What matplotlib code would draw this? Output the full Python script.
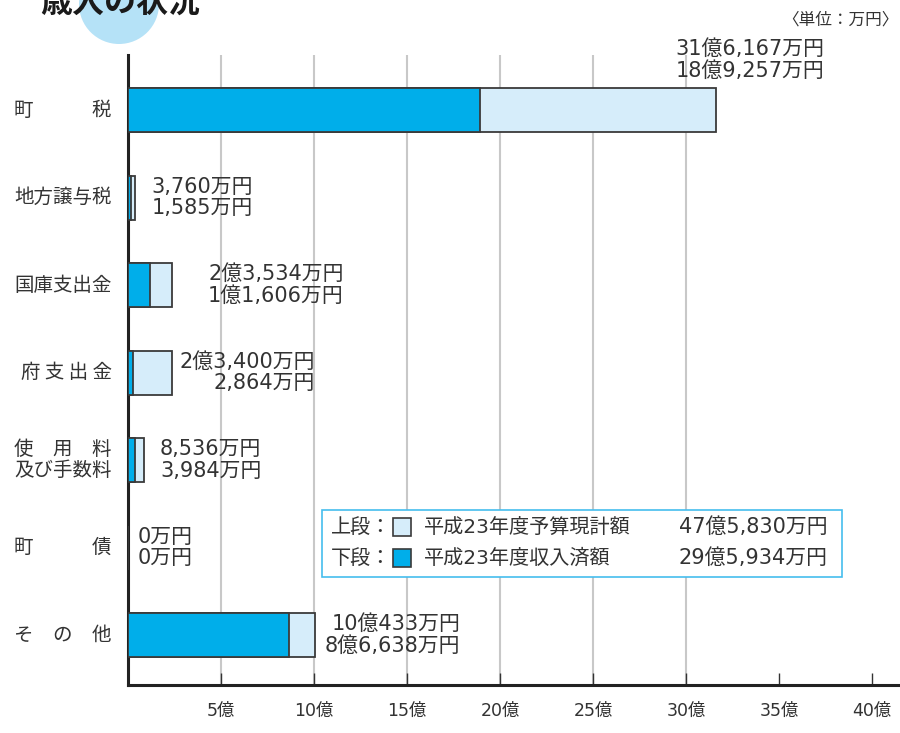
import matplotlib
matplotlib.use("Agg")
import matplotlib.pyplot as plt
from matplotlib.patches import Rectangle, Ellipse

plt.rcParams['font.family'] = ['Noto Sans CJK JP', 'DejaVu Sans']
NUMFONT = ['DejaVu Sans', 'Noto Sans CJK JP']   # wide digits like the original

# data (万円)
categories = ["町　　　税", "地方譲与税", "国庫支出金", "府 支 出 金",
              "使　用　料\n及び手数料", "町　　　債", "そ　の　他"]
budget = [316167, 3760, 23534, 23400, 8536, 0, 100433]     # 上段: 予算現計額
received = [189257, 1585, 11606, 2864, 3984, 0, 86638]     # 下段: 収入済額
xticks = [5, 10, 15, 20, 25, 30, 35, 40]
xtick_labels = ["5億", "10億", "15億", "20億", "25億", "30億", "35億", "40億"]
grid_ticks = [5, 10, 15, 20, 25, 30]

# layout: gap (px) between bar end and value label
label_gap = [None, 16, 36, 8, 16, 10, 10]

LIGHT = "#d6edfa"
BLUE = "#00aeea"
EDGE = "#3a3a3a"
TXT = "#333333"


def fmt(v):
    oku, man = divmod(v, 10000)
    if oku == 0:
        return f"{man:,}万円"
    return f"{oku}億{man:,}万円"


fig = plt.figure(figsize=(9, 7.33), dpi=100)
W, H = 900, 733

# title with circle
fig.patches.append(Ellipse((119 / W, 1 - 4 / H), 80 / W, 80 / H, transform=fig.transFigure,
                           facecolor="#b5e2f7", edgecolor="none", zorder=0))
fig.text(40 / W, 1 - 3 / H, "歳入の状況", fontsize=23, fontweight="bold", color="#1a1a1a",
         va="center", ha="left", style="italic")
fig.text(899 / W, 1 - 20 / H, "〈単位：万円〉", fontsize=12, color=TXT, ha="right", va="center")

ax = fig.add_axes([128 / W, 48 / H, 772 / W, 630 / H])
ax.set_xlim(0, 41.5)
ax.set_ylim(6.57, -0.63)

for g in grid_ticks:
    ax.axvline(g, color="#c8c8c8", lw=1.5, zorder=0)

ypos = list(range(len(categories)))
b_oku = [v / 10000 for v in budget]
r_oku = [v / 10000 for v in received]
ax.barh(ypos, b_oku, height=0.5, color=LIGHT, edgecolor=EDGE, lw=1.3, zorder=2)
ax.barh(ypos, r_oku, height=0.5, color=BLUE, edgecolor=EDGE, lw=1.3, zorder=3)

for i, cat in enumerate(categories):
    ax.annotate(cat, (0, i), xytext=(-16 * 0.72, 0), textcoords="offset points",
                ha="right", va="center", fontsize=14, color=TXT, linespacing=1.0,
                multialignment="left" if "\n" in cat else "right", annotation_clip=False)
    txt = fmt(budget[i]) + "\n" + fmt(received[i])
    if label_gap[i] is None:
        ax.annotate(txt, (b_oku[i], i), xytext=(108 * 0.72, 50 * 0.72), textcoords="offset points",
                    ha="right", va="center", fontsize=15, color=TXT, linespacing=1.1,
                    multialignment="right", zorder=5, family=NUMFONT)
    else:
        ax.annotate(txt, (b_oku[i], i), xytext=(label_gap[i] * 0.72, 0), textcoords="offset points",
                    ha="left", va="center", fontsize=15, color=TXT, linespacing=1.1,
                    multialignment="right" if budget[i] else "left", zorder=5, family=NUMFONT)

ax.set_yticks([])
ax.set_xticks(xticks)
ax.set_xticklabels(xtick_labels, fontsize=12.5, color=TXT, family=NUMFONT)
ax.tick_params(axis="x", direction="in", length=9, width=1, color=TXT, pad=12)
for s in ["top", "right"]:
    ax.spines[s].set_visible(False)
for s in ["left", "bottom"]:
    ax.spines[s].set_color("#222222")
    ax.spines[s].set_linewidth(2.2)

# legend box
fig.patches.append(Rectangle((322 / W, 1 - 577 / H), 520 / W, 67 / H, transform=fig.transFigure,
                             facecolor="white", edgecolor="#45bdee", lw=1.2, zorder=6))
rows = [("上段：", LIGHT, "平成23年度予算現計額", sum(budget), 527),
        ("下段：", BLUE, "平成23年度収入済額", sum(received), 558)]
for head, col, name, total, py in rows:
    fy = 1 - py / H
    fig.text(331 / W, fy, head, fontsize=14.5, color=TXT, va="center", ha="left", zorder=7)
    fig.patches.append(Rectangle((393 / W, fy - 9 / H), 18 / W, 18 / H, transform=fig.transFigure,
                                 facecolor=col, edgecolor=EDGE, lw=1.2, zorder=7))
    fig.text(424 / W, fy, name, fontsize=14.5, color=TXT, va="center", ha="left", zorder=7,
             family=NUMFONT)
    fig.text(828 / W, fy, fmt(total), fontsize=15, color=TXT, va="center", ha="right", zorder=7,
             family=NUMFONT)

fig.savefig("out.png", dpi=100)
